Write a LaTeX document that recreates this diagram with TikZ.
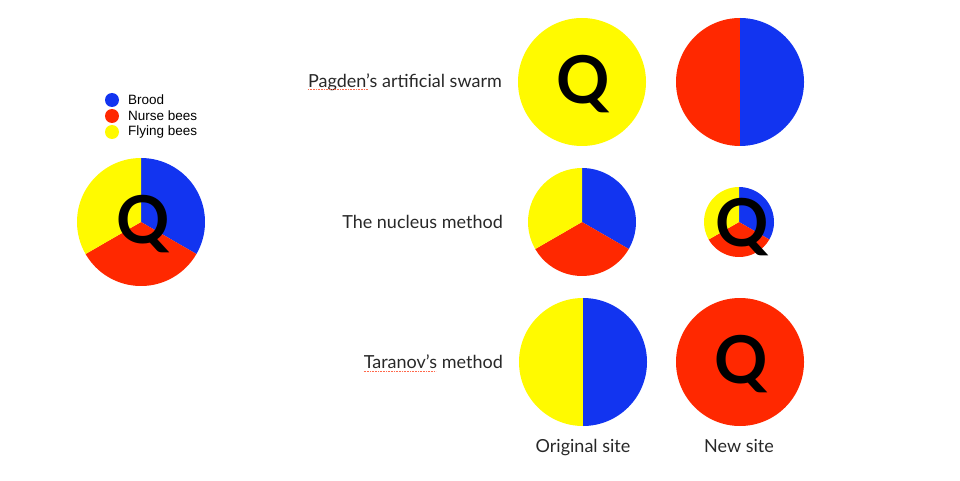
\documentclass[tikz,border=0pt]{standalone}
\usepackage{fontspec}
\setmainfont{Lato}
\newfontfamily\legendfont{Liberation Sans}
\usetikzlibrary{positioning}

\definecolor{broodblue}{RGB}{18,52,240}
\definecolor{nursered}{RGB}{255,40,0}
\definecolor{flyyellow}{RGB}{255,250,0}
\definecolor{labelgray}{RGB}{40,40,40}

\tikzset{
  brood/.style={fill=broodblue},
  nurse/.style={fill=nursered},
  flying/.style={fill=flyyellow},
  queen/.style={font=\fontsize{66}{66}\selectfont\bfseries, inner sep=0pt},
  method/.style={font=\fontsize{18}{18}\selectfont, text=labelgray, anchor=east, inner sep=0pt},
  site/.style={font=\fontsize{18}{18}\selectfont, text=labelgray, anchor=base, inner sep=0pt},
  keytext/.style={font=\legendfont\fontsize{13.5}{13.5}\selectfont, anchor=west, inner sep=0pt},
  keydot/.style={circle, minimum size=14pt, inner sep=0pt},
  spellmark/.style={nursered!70, densely dotted, line width=0.6pt}
}

% three-way colony: centre, radius
\newcommand{\colonypie}[2]{
  \fill[brood] (#1) -- ++(-30:#2) arc[start angle=-30, end angle=90, radius=#2] -- cycle;
  \fill[nurse] (#1) -- ++(210:#2) arc[start angle=210, end angle=330, radius=#2] -- cycle;
  \fill[flying] (#1) -- ++(90:#2) arc[start angle=90, end angle=210, radius=#2] -- cycle;
}
% two-way colony: centre, radius, left style, right style
\newcommand{\halfpie}[4]{
  \fill[#3] (#1) -- ++(90:#2) arc[start angle=90, end angle=270, radius=#2] -- cycle;
  \fill[#4] (#1) -- ++(-90:#2) arc[start angle=-90, end angle=90, radius=#2] -- cycle;
}

\begin{document}
\begin{tikzpicture}[x=1pt,y=1pt]
    \useasboundingbox (0,0) rectangle (960,480);
    % legend
    \node[keydot, brood] (kb) at (112,380) {};
    \node[keydot, nurse] (kn) at (112,364) {};
    \node[keydot, flying] (kf) at (112,348) {};
    \node[keytext] at (128,380) {Brood};
    \node[keytext] at (128,364) {Nurse bees};
    \node[keytext] at (128,348) {Flying bees};
    % whole colony
    \coordinate (whole) at (141,258);
    \colonypie{whole}{64}
    \node[queen] (qwhole) at (143,256) {Q};
    % Pagden's artificial swarm
    \coordinate (pagold) at (582,398);
    \coordinate (pagnew) at (740,398);
    \fill[flying] (pagold) circle[radius=64];
    \node[queen] (qpag) at (583,396) {Q};
    \halfpie{pagnew}{64}{nurse}{brood}
    \node[method] (pagden) at (502,398) {Pagden's artificial swarm};
    \draw[spellmark] ([yshift=-2pt]pagden.base west) -- ++(60,0);
    % the nucleus method
    \coordinate (nucold) at (582,258);
    \coordinate (nucnew) at (739,258);
    \colonypie{nucold}{54}
    \colonypie{nucnew}{35}
    \node[queen] (qnuc) at (742,253) {Q};
    \node[method] (nucleus) at (503,258) {The nucleus method};
    % Taranov's method
    \coordinate (tarold) at (583,118);
    \coordinate (tarnew) at (740,118);
    \halfpie{tarold}{64}{flying}{brood}
    \fill[nurse] (tarnew) circle[radius=64];
    \node[queen] (qtar) at (741,116) {Q};
    \node[method] (taranov) at (503,118) {Taranov's method};
    \draw[spellmark] ([yshift=-2pt]taranov.base west) -- ++(72,0);
    % sites
    \node[site] (origsite) at (583,28) {Original site};
    \node[site] (newsite) at (739,28) {New site};
\end{tikzpicture}
\end{document}
